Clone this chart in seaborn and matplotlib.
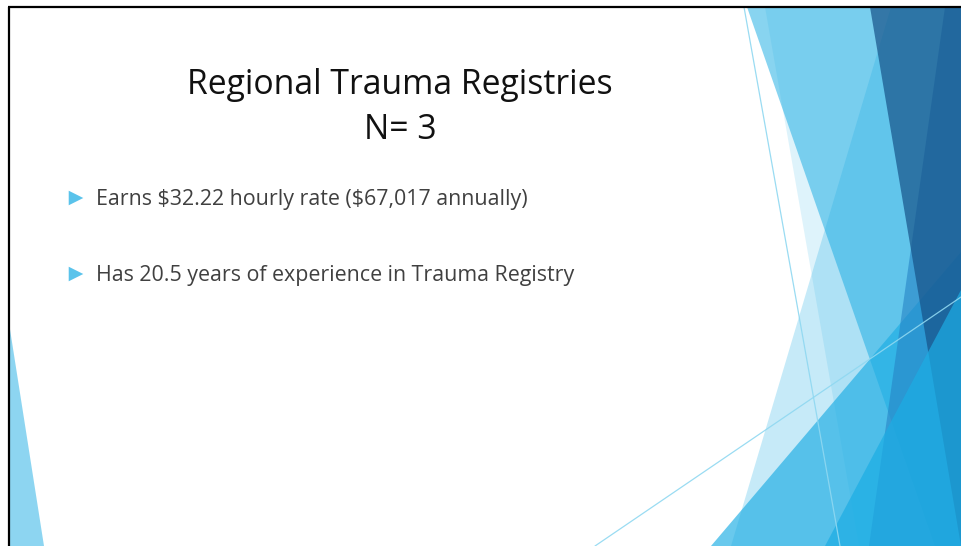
import matplotlib
matplotlib.use("Agg")
import matplotlib.pyplot as plt
import seaborn as sns
import pandas as pd

# Slide text
title_lines = ["Regional Trauma Registries", "N= 3"]
bullet_texts = [
    "Earns $32.22 hourly rate ($67,017 annually)",
    "Has 20.5 years of experience in Trauma Registry",
]

W, H = 961, 546

accent1 = "#1cade4"
accent2 = "#2683c6"
navy = "#165187"

# Facet-style decoration (pixel coords, origin top-left), drawn bottom to top
shapes = [
    ([(891, 7), (961, 7), (961, 546), (731, 546)], accent1, 0.25),
    ([(747, 7), (961, 7), (961, 546), (935, 546)], accent1, 0.52),
    ([(765, 7), (961, 7), (961, 546), (859, 546)], accent1, 0.14),
    ([(711, 546), (961, 546), (961, 252)], accent1, 0.66),
    ([(945, 7), (961, 7), (961, 546), (869, 546)], accent2, 0.60),
    ([(870, 7), (961, 7), (961, 546)], navy, 0.69),
    ([(825, 546), (961, 546), (961, 290)], accent1, 0.70),
    ([(9, 323), (9, 546), (44, 546)], accent1, 0.50),
]

sns.set_theme(style="white")
plt.rcParams["font.family"] = ["Open Sans", "DejaVu Sans"]

fig = plt.figure(figsize=(W / 100, H / 100), dpi=100)
ax = fig.add_axes([0, 0, 1, 1])
ax.set_xlim(0, W)
ax.set_ylim(H, 0)
ax.axis("off")

for pts, col, a in shapes:
    xs = [p[0] for p in pts]
    ys = [p[1] for p in pts]
    ax.fill(xs, ys, color=col, alpha=a, lw=0)

# thin accent lines
lines = pd.DataFrame({
    "x": [744, 840, 595, 961],
    "y": [7, 546, 546, 297],
    "seg": ["a", "a", "b", "b"],
})
for _, seg in lines.groupby("seg"):
    sns.lineplot(data=seg, x="x", y="y", ax=ax, color="#8fd8f1",
                 lw=0.9, alpha=0.9, estimator=None, sort=False)

# frame of the slide screenshot
ax.plot([8, W], [7, 7], color="black", lw=1.6, solid_capstyle="butt")
ax.plot([9, 9], [7, H], color="black", lw=1.6, solid_capstyle="butt")

# title
ax.text(400, 94, title_lines[0], ha="center", va="baseline",
        fontsize=24.3, color="#111111")
ax.text(400, 139, title_lines[1], ha="center", va="baseline",
        fontsize=24.3, color="#111111")

# bullets
bullet_y = [198, 274]
sns.scatterplot(x=[76] * len(bullet_y), y=bullet_y, ax=ax, marker=">",
                s=110, color="#5ac3eb", edgecolor="none", legend=False)
for yb, txt in zip(bullet_y, bullet_texts):
    ax.text(96, yb + 7, txt, ha="left", va="baseline", parse_math=False,
            fontsize=15.4, color="#404040")

ax.set_xlabel("")
ax.set_ylabel("")
fig.savefig("out.png", dpi=100)
